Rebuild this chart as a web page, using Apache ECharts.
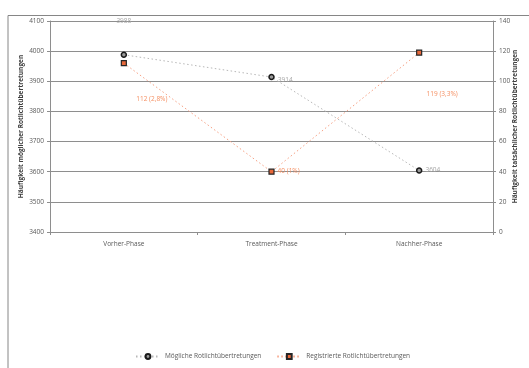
<!DOCTYPE html>
<html>
<head>
<meta charset="utf-8">
<script src="https://cdn.jsdelivr.net/npm/echarts@6/dist/echarts.min.js"></script>
<style>
  html, body { margin: 0; padding: 0; background: #ffffff; }
  #chart { width: 529px; height: 368px; }
</style>
</head>
<body>
<div id="chart"></div>
<script>
// Phases of the study
const phases = ['Vorher-Phase', 'Treatment-Phase', 'Nachher-Phase'];
// Possible red-light violations (left axis)
const moeglich = [3988, 3914, 3604];
// Registered red-light violations (right axis) and their share
const registriert = [112, 40, 119];
const registriertAnteil = ['2,8%', '1%', '3,3%'];
// Axis ticks
const leftMin = 3400, leftMax = 4100, leftStep = 100;
const rightMin = 0, rightMax = 140, rightStep = 20;

const font = 'Open Sans';
const gridColor = '#8e8e8e';
const tickText = '#595959';

const chart = echarts.init(document.getElementById('chart'), null, { renderer: 'canvas' });

// label placement per point
const moeglichLabel = [
  { position: 'top', offset: [0, -22] },
  { position: 'right', offset: [-2, 3] },
  { position: 'right', offset: [-2, 0] }
];
const registriertLabel = [
  { position: 'bottom', offset: [28, 24] },
  { position: 'right', offset: [-2, -1] },
  { position: 'bottom', offset: [23, 30] }
];

chart.setOption({
  animation: false,
  backgroundColor: '#ffffff',
  textStyle: { fontFamily: font },
  graphic: [{
    type: 'rect',
    shape: { x: 8, y: 15.5, width: 560, height: 400 },
    style: { fill: 'none', stroke: '#868686', lineWidth: 1 },
    silent: true, z: -1
  }],
  grid: { left: 50, right: 36, top: 21, bottom: 136, containLabel: false, outerBoundsMode: 'none' },
  legend: {
    bottom: 3,
    left: 130,
    itemGap: 15,
    itemWidth: 24,
    itemHeight: 6,
    textStyle: { fontFamily: font, fontSize: 6.5, color: tickText },
    data: ['Mögliche Rotlichtübertretungen', 'Registrierte Rotlichtübertretungen']
  },
  xAxis: {
    type: 'category',
    data: phases,
    boundaryGap: true,
    axisLine: { lineStyle: { color: gridColor } },
    axisTick: { show: true, length: 3, lineStyle: { color: gridColor } },
    axisLabel: { fontFamily: font, fontSize: 6.5, color: tickText, margin: 9 }
  },
  yAxis: [{
    type: 'value',
    min: leftMin, max: leftMax, interval: leftStep,
    name: 'Häufigkeit möglicher Rotlichtübertretungen',
    nameLocation: 'middle',
    nameGap: 25,
    nameMoveOverlap: false,
    nameTextStyle: { fontFamily: font, fontSize: 6.5, fontWeight: 'bold', color: '#404040' },
    axisLine: { show: true, lineStyle: { color: gridColor } },
    axisTick: { show: true, length: 3, lineStyle: { color: gridColor } },
    axisLabel: { fontFamily: font, fontSize: 6.5, color: tickText, margin: 6, formatter: v => String(v) },
    splitLine: { lineStyle: { color: gridColor, width: 1 } }
  }, {
    type: 'value',
    min: rightMin, max: rightMax, interval: rightStep,
    name: 'Häufigkeit tatsächlicher Rotlichtübertretungen',
    nameLocation: 'middle',
    nameGap: 19,
    nameRotate: 90,
    nameMoveOverlap: false,
    nameTextStyle: { fontFamily: font, fontSize: 6.5, fontWeight: 'bold', color: '#404040' },
    axisLine: { show: true, lineStyle: { color: gridColor } },
    axisTick: { show: true, length: 3, lineStyle: { color: gridColor } },
    axisLabel: { fontFamily: font, fontSize: 6.5, color: tickText, margin: 6, formatter: v => String(v) },
    splitLine: { show: false }
  }],
  series: [{
    name: 'Mögliche Rotlichtübertretungen',
    type: 'line',
    yAxisIndex: 0,
    symbol: 'circle',
    symbolSize: 5,
    itemStyle: { color: '#9a9a9a', borderColor: '#1a1a1a', borderWidth: 1.5 },
    lineStyle: { color: '#b8b8b8', width: 1, type: [1.5, 2.5] },
    data: moeglich.map((v, i) => ({
      value: v,
      label: Object.assign({
        show: true,
        formatter: String(v),
        fontFamily: font, fontSize: 6.5, color: '#a6a6a6'
      }, moeglichLabel[i])
    }))
  }, {
    name: 'Registrierte Rotlichtübertretungen',
    type: 'line',
    yAxisIndex: 1,
    symbol: 'rect',
    symbolSize: 5,
    itemStyle: { color: '#e8683a', borderColor: '#262626', borderWidth: 1.2 },
    lineStyle: { color: '#f7a184', width: 1, type: [1.5, 2.5] },
    data: registriert.map((v, i) => ({
      value: v,
      label: Object.assign({
        show: true,
        formatter: v + ' (' + registriertAnteil[i] + ')',
        fontFamily: font, fontSize: 6.5, color: '#f58f62'
      }, registriertLabel[i])
    }))
  }]
});
</script>
</body>
</html>
